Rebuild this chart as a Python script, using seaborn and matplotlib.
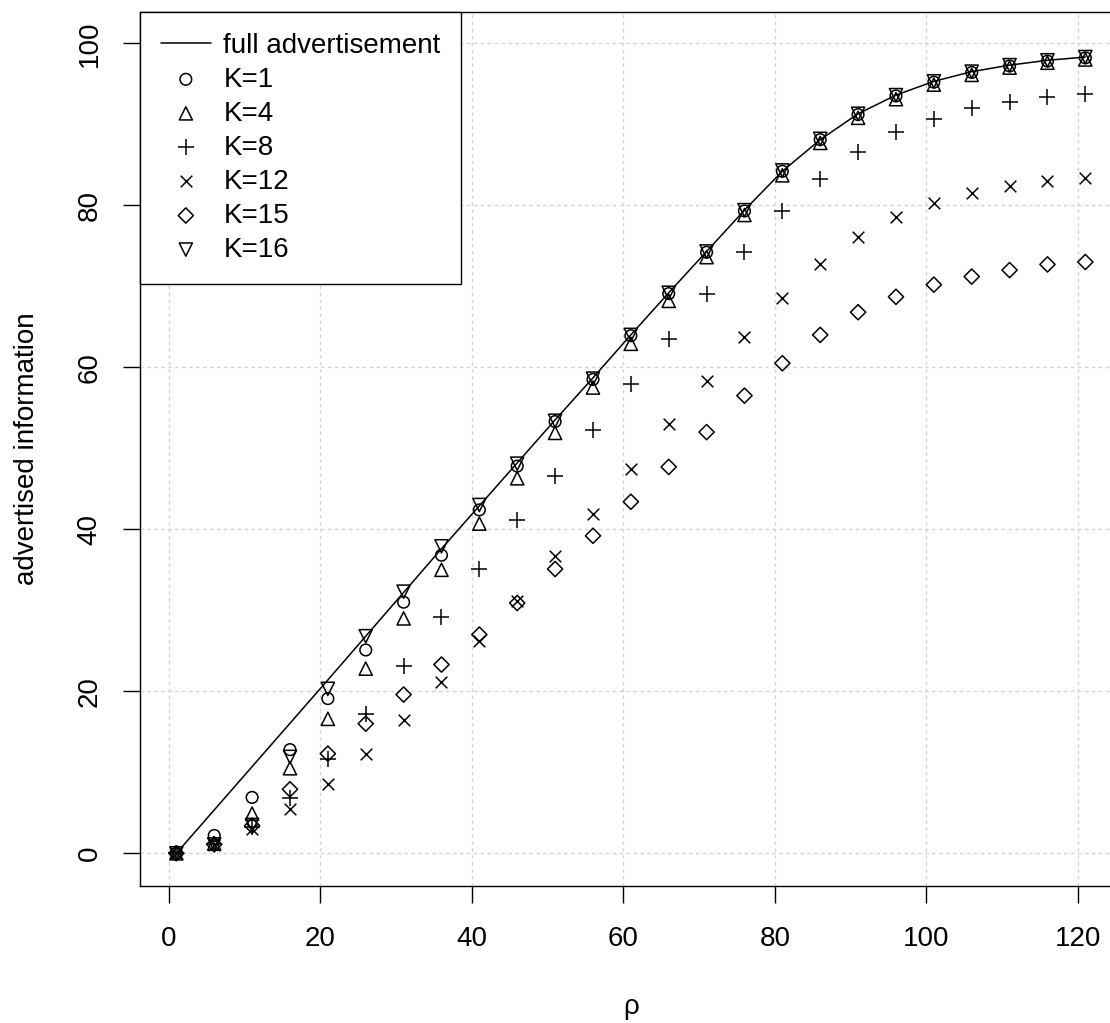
import matplotlib
matplotlib.use("Agg")
import matplotlib.pyplot as plt
import seaborn as sns
import pandas as pd

# rho values (x axis)
rho = [1, 6, 11, 16, 21, 26, 31, 36, 41, 46, 51, 56, 61, 66, 71, 76, 81, 86, 91, 96, 101, 106, 111, 116, 121]

# full advertisement curve
full_adv = [0, 5.35, 10.7, 16.05, 21.4, 26.8, 32.2, 37.6, 42.9, 48.2, 53.5, 58.7, 64.0, 69.2, 74.3,
            79.4, 84.2, 88.1, 91.3, 93.6, 95.3, 96.5, 97.3, 97.9, 98.3]

# advertised information per K
k1 = [0, 2.2, 6.9, 12.8, 19.1, 25.1, 31.0, 36.8, 42.4, 47.8, 53.3, 58.5, 63.9, 69.1, 74.2,
      79.3, 84.2, 88.1, 91.2, 93.5, 95.2, 96.4, 97.2, 97.8, 98.2]
k4 = [0, 1.2, 4.9, 10.5, 16.6, 22.8, 29.0, 35.0, 40.7, 46.3, 51.9, 57.5, 62.9, 68.2, 73.6,
      78.8, 83.7, 87.7, 90.8, 93.1, 94.9, 96.1, 97.0, 97.6, 98.0]
k8 = [0, 1.1, 3.3, 6.8, 11.7, 17.2, 23.1, 29.2, 35.1, 41.1, 46.6, 52.3, 57.9, 63.5, 69.0,
      74.2, 79.3, 83.3, 86.6, 89.0, 90.7, 92.0, 92.8, 93.4, 93.8]
k12 = [0, 1.0, 3.0, 5.5, 8.6, 12.2, 16.4, 21.1, 26.2, 31.2, 36.7, 41.9, 47.4, 53.0, 58.3,
       63.7, 68.5, 72.8, 76.1, 78.6, 80.3, 81.5, 82.4, 83.0, 83.4]
k15 = [0, 1.1, 3.4, 7.9, 12.3, 16.0, 19.6, 23.3, 27.0, 30.9, 35.1, 39.2, 43.4, 47.7, 52.0,
       56.5, 60.5, 64.0, 66.8, 68.7, 70.2, 71.2, 72.0, 72.7, 73.0]
k16 = [0, 1.1, 3.5, 11.9, 20.3, 26.8, 32.3, 37.9, 43.0, 48.1, 53.4, 58.6, 64.0, 69.2, 74.3,
       79.4, 84.3, 88.2, 91.3, 93.6, 95.3, 96.5, 97.3, 97.9, 98.3]

labels = ["K=1", "K=4", "K=8", "K=12", "K=15", "K=16"]
series = [k1, k4, k8, k12, k15, k16]
markers = ["o", "^", "+", "x", "D", "v"]
sizes = [70, 90, 130, 70, 60, 90]
filled = [True, True, False, False, True, True]

sns.set_style("white")
plt.rcParams["font.family"] = ["Liberation Sans", "DejaVu Sans"]
plt.rcParams.update({"text.color": "black", "axes.labelcolor": "black",
                     "xtick.color": "black", "ytick.color": "black",
                     "xtick.bottom": True, "ytick.left": True})

fig = plt.figure(figsize=(11.1, 10.23), dpi=100)
ax = fig.add_axes([140 / 1110, (1023 - 885.7) / 1023, 981.7 / 1110, 874 / 1023])

ax.grid(True, color="#d3d3d3", linestyle=(0, (2.5, 2.5)), linewidth=1.0)
ax.set_axisbelow(True)

sns.lineplot(x=rho, y=full_adv, color="black", linewidth=1.1, ax=ax, label="full advertisement")

for lab, vals, m, s, f in zip(labels, series, markers, sizes, filled):
    df = pd.DataFrame({"rho": rho, "info": vals})
    if f:
        sns.scatterplot(data=df, x="rho", y="info", marker=m, s=s, facecolor="none",
                        edgecolor="black", linewidth=1.1, ax=ax, label=lab)
    else:
        sns.scatterplot(data=df, x="rho", y="info", marker=m, s=s, color="black",
                        linewidth=1.1, ax=ax, label=lab)

ax.set_xlim(-3.8, 125.8)
ax.set_ylim(-4.0, 103.9)
ax.set_xticks([0, 20, 40, 60, 80, 100, 120])
ax.set_yticks([0, 20, 40, 60, 80, 100])
ax.tick_params(axis="both", direction="out", length=12, width=1.0, labelsize=20,
               color="black", bottom=True, left=True)
ax.tick_params(axis="x", pad=17)
ax.tick_params(axis="y", pad=15)
for t in ax.get_yticklabels():
    t.set_rotation(90)
    t.set_va("center")

for sp in ax.spines.values():
    sp.set_color("black")
    sp.set_linewidth(1.0)

ax.set_xlabel("ρ", fontsize=20, labelpad=30)
ax.set_ylabel("advertised information", fontsize=20, labelpad=26)

leg = ax.legend(loc="upper left", bbox_to_anchor=(0, 1), borderaxespad=0, fontsize=20,
                frameon=True, fancybox=False, edgecolor="black", framealpha=1,
                borderpad=0.75, labelspacing=0.29, handlelength=1.8, handletextpad=0.45)
leg.get_frame().set_linewidth(1.0)

fig.savefig("out.png", dpi=100)
